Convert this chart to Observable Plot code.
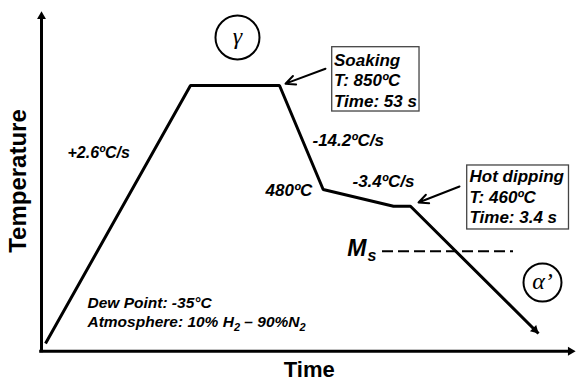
<!DOCTYPE html>
<html>
<head>
<meta charset="utf-8">
<script src="https://cdn.jsdelivr.net/npm/d3@7"></script>
<script src="https://cdn.jsdelivr.net/npm/@observablehq/plot@0.6"></script>
<style>
  body { margin: 0; background: #fff; }
  #chart svg { display: block; }
</style>
</head>
<body>
<div id="chart"></div>
<script>
// Schematic heat-treatment cycle (time and temperature in arbitrary % of axis length)
const cycleTime = [0.75, 27.9, 44.57, 52.75, 65.92, 69.1, 93.07];
const cycleTemp = [2.27, 78.22, 78.22, 47.6, 42.68, 42.68, 5.21];

// Rate / temperature labels along the path
const rateLabels = ["+2.6ºC/s", "-14.2ºC/s", "480ºC", "-3.4ºC/s"];
const rateTime = [4.87, 50.75, 41.95, 58.24];
const rateTemp = [56.81, 60.55, 45.83, 48.19];
const rateSize = [16, 17, 17, 17];

// Callout boxes
const boxTexts = ["Soaking\nT: 850ºC\nTime: 53 s", "Hot dipping\nT: 460ºC\nTime: 3.4 s"];
const boxTextTime = [54.78, 80.15];
const boxTextTemp = [88.49, 53.95];
const boxLineHeight = [1.235, 1.206];
const boxX1 = [54.44, 79.72];
const boxX2 = [70.79, 98.78];
const boxY1 = [70.56, 35.83];
const boxY2 = [89.49, 54.67];
const calloutFromTime = [53.18, 78.28];
const calloutFromTemp = [83.16, 48.5];
const calloutToTime = [45.69, 70.6];
const calloutToTemp = [78.75, 43.79];

// Process notes
const noteLines = ["Dew Point: -35°C", "Atmosphere: 10% H2 – 90%N2"];
const noteTime = [8.61, 8.61];
const noteTemp = [12.86, 6.98];

// Martensite start line
const msTemp = 29.44;
const msFrom = 63.86;
const msTo = 88.39;
const msLabelTime = [57.25, 61.05];
const msLabelTemp = [28.17, 26.5];

// Phase markers
const phases = ["γ", "α’"];
const phaseTime = [36.7, 93.82];
const phaseTemp = [92.34, 20.22];
const phaseRadius = [22, 19];

// Axis titles
const axisTitles = ["Time", "Temperature"];

// ---- build tables ----
const cycle = cycleTime.map((t, i) => ({t, T: cycleTemp[i]}));
const rates = rateLabels.map((s, i) => ({s, t: rateTime[i], T: rateTemp[i], size: rateSize[i]}));
const boxes = boxTexts.map((s, i) => ({
  s, t: boxTextTime[i], T: boxTextTemp[i], lh: boxLineHeight[i],
  x1: boxX1[i], x2: boxX2[i], y1: boxY1[i], y2: boxY2[i],
  ax1: calloutFromTime[i], ay1: calloutFromTemp[i], ax2: calloutToTime[i], ay2: calloutToTemp[i]
}));
const notes = noteLines.map((s, i) => ({s, t: noteTime[i], T: noteTemp[i]}));
const phaseData = phases.map((s, i) => ({s, t: phaseTime[i], T: phaseTemp[i], r: phaseRadius[i]}));

const sans = "Liberation Sans, Arial, Helvetica, sans-serif";
const serif = "Liberation Serif, Times New Roman, serif";
const lastPt = cycle[cycle.length - 1];

const chart = Plot.plot({
  width: 576,
  height: 382,
  marginLeft: 41,
  marginRight: 1,
  marginTop: 11,
  marginBottom: 31.3,
  x: {domain: [0, 100], axis: null},
  y: {domain: [0, 100], axis: null},
  style: {background: "#fff", fontFamily: sans},
  marks: [
    // axes with arrowheads
    Plot.ruleX([0], {y1: -0.45, y2: 98.6, stroke: "black", strokeWidth: 3}),
    Plot.ruleY([0], {x1: -0.34, x2: 99.2, stroke: "black", strokeWidth: 3}),
    Plot.dot([0], {x: 0, y: 100, symbol: "triangle", r: 3.3, fill: "black", stroke: "none", dy: 5}),
    Plot.dot([0], {x: 100, y: 0, symbol: "triangle", r: 3.3, fill: "black", stroke: "none", dx: -5, rotate: 90}),
    // Ms dashed line
    Plot.ruleY([msTemp], {x1: msFrom, x2: msTo, stroke: "black", strokeWidth: 2, strokeDasharray: "11,5"}),
    // thermal cycle
    Plot.line(cycle, {x: "t", y: "T", stroke: "black", strokeWidth: 3, strokeLinejoin: "miter", strokeLinecap: "butt"}),
    Plot.dot([lastPt], {x: "t", y: "T", symbol: "triangle", r: 3.3, fill: "black", stroke: "none", rotate: 135, dx: -3.6, dy: -3.6}),
    // callout boxes
    Plot.rect(boxes, {x1: "x1", x2: "x2", y1: "y1", y2: "y2", fill: "white", stroke: "#444", strokeWidth: 1.3}),
    Plot.arrow(boxes, {x1: "ax1", y1: "ay1", x2: "ax2", y2: "ay2", stroke: "black", strokeWidth: 2, headLength: 8, headAngle: 50}),
    ...boxes.map(b => Plot.text([b], {
      x: "t", y: "T", text: "s", textAnchor: "start", lineAnchor: "top", lineHeight: b.lh,
      fontSize: 17, fontWeight: "bold", fontStyle: "italic", fill: "black"
    })),
    // rate labels
    Plot.text(rates, {x: "t", y: "T", text: "s", fontSize: "size", textAnchor: "start", lineAnchor: "bottom",
      fontWeight: "bold", fontStyle: "italic", fill: "black"}),
    // notes
    Plot.text(notes, {x: "t", y: "T", text: "s", fontSize: 15.5, textAnchor: "start", lineAnchor: "bottom",
      fontWeight: "bold", fontStyle: "italic", fill: "black"}),
    // Ms label
    Plot.text(["M"], {x: msLabelTime[0], y: msLabelTemp[0], text: d => d, fontSize: 23, textAnchor: "start", lineAnchor: "bottom",
      fontWeight: "bold", fontStyle: "italic", fill: "black"}),
    Plot.text(["s"], {x: msLabelTime[1], y: msLabelTemp[1], text: d => d, fontSize: 16, textAnchor: "start", lineAnchor: "bottom",
      fontWeight: "bold", fontStyle: "italic", fill: "black"}),
    // phase circles
    ...phaseData.map(p => Plot.dot([p], {x: "t", y: "T", r: p.r, stroke: "black", strokeWidth: 2, fill: "white"})),
    Plot.text(phaseData, {x: "t", y: "T", text: "s", fontSize: 24, fontFamily: serif, fontStyle: "italic", fill: "black", dy: -1}),
    // axis titles
    Plot.text([axisTitles[0]], {x: 50.15, y: -7.7, text: d => d, fontSize: 22, fontWeight: "bold", lineAnchor: "bottom", fill: "black"}),
    Plot.text([axisTitles[1]], {x: -2.81, y: 50.1, text: d => d, fontSize: 24, fontWeight: "bold", lineAnchor: "bottom", rotate: -90, fill: "black"})
  ]
});

// subscripts in the atmosphere note
for (const el of chart.querySelectorAll("text")) {
  if (el.textContent === noteLines[1]) {
    el.textContent = "";
    const parts = [["Atmosphere: 10% H", null], ["2", "sub"], [" – 90%N", "up"], ["2", "sub"]];
    for (const [str, kind] of parts) {
      const ts = document.createElementNS("http://www.w3.org/2000/svg", "tspan");
      ts.textContent = str;
      if (kind === "sub") { ts.setAttribute("dy", "4"); ts.setAttribute("font-size", "11"); }
      if (kind === "up") { ts.setAttribute("dy", "-4"); }
      el.appendChild(ts);
    }
  }
}

document.getElementById("chart").appendChild(chart);
</script>
</body>
</html>
